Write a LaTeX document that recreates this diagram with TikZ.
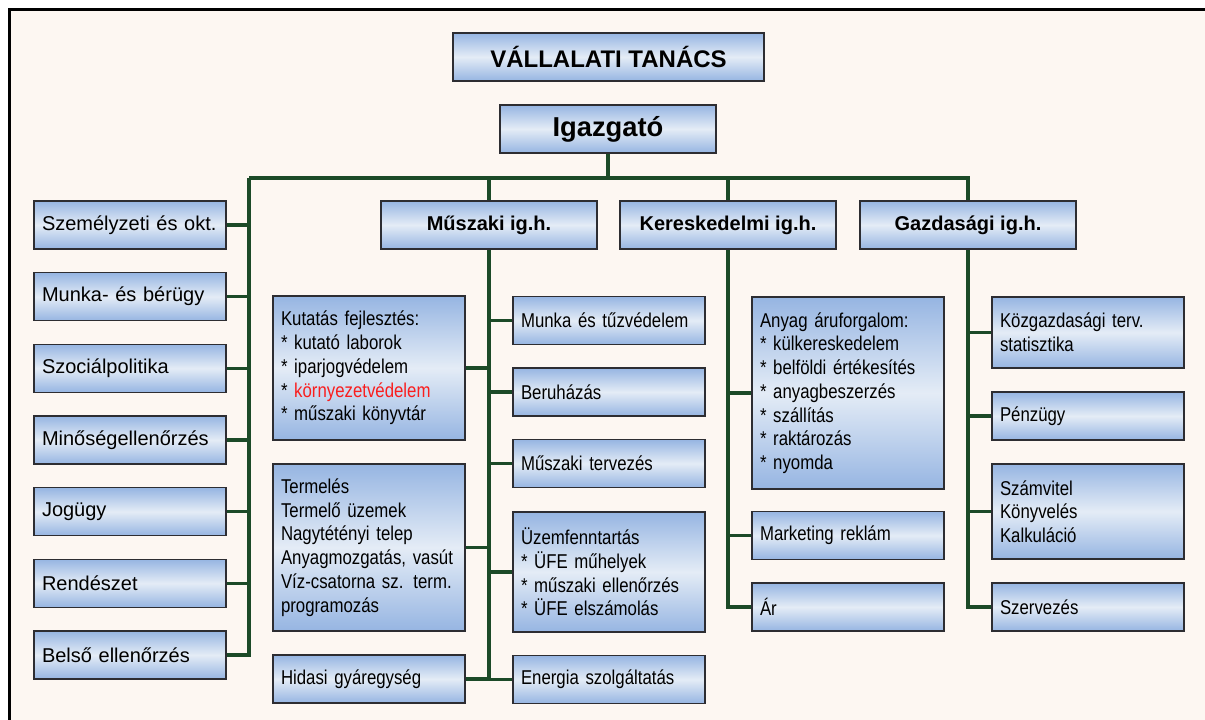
\documentclass[tikz,border=0pt]{standalone}
\usepackage{fontspec}
\setmainfont{Liberation Sans}
\newfontfamily\narrowsans[FakeStretch=0.84]{Liberation Sans}
\definecolor{boxblue}{RGB}{150,181,226}
\definecolor{boxlight}{RGB}{228,236,246}
\definecolor{boxedge}{RGB}{45,45,50}
\definecolor{linkgreen}{RGB}{28,74,40}
\definecolor{paper}{RGB}{253,247,242}
\definecolor{alertred}{RGB}{250,30,30}
% bullet item at the start of a line inside a unit box
\newcommand\bitem{{*}~}

\begin{document}
\begin{tikzpicture}[x=0.75pt,y=-0.75pt,
  box/.style={draw=boxedge, line width=0.8pt, top color=boxblue, bottom color=boxblue,
    middle color=boxlight, inner xsep=6pt, inner ysep=0pt, minimum height=36pt},
  headbox/.style={box, align=center},
  sidebox/.style={box, align=left, text width=132pt, minimum width=144pt,
    font=\fontsize{15}{18}\selectfont},
  unitbox/.style={box, align=left, text width=132pt, minimum width=144pt,
    font=\narrowsans\fontsize{15}{17.8}\selectfont},
  conn/.style={draw=linkgreen, line width=2.4pt}]

% sheet and frame
\useasboundingbox (0,0) rectangle (1205,720);
\fill[white] (0,0) rectangle (1205,720);
\fill[paper] (9,9) rectangle (1205,720);
\draw[line width=2.25pt, line join=miter] (9.5,720) -- (9.5,9.5) -- (1205,9.5);

% top level
\node[headbox, minimum width=233.25pt, font=\fontsize{18}{21}\selectfont\bfseries]
  (tanacs) at (608.5,57) {VÁLLALATI TANÁCS};
\node[headbox, minimum width=162pt, font=\fontsize{20.5}{24}\selectfont\bfseries]
  (igaz) at (608,129) {Igazgató};

% deputies
\node[headbox, minimum width=162pt, font=\fontsize{15}{18}\selectfont\bfseries]
  (musz) at (489,225) {Műszaki ig.h.};
\node[headbox, minimum width=162pt, font=\fontsize{15}{18}\selectfont\bfseries]
  (ker) at (728,225) {Kereskedelmi ig.h.};
\node[headbox, minimum width=162pt, font=\fontsize{15}{18}\selectfont\bfseries]
  (gazd) at (968,225) {Gazdasági ig.h.};

% staff units under the director
\node[sidebox] (szem) at (130,225) {Személyzeti és okt.};
\node[sidebox] (munka) at (130,296.7) {Munka- és bérügy};
\node[sidebox] (szoc) at (130,368.3) {Szociálpolitika};
\node[sidebox] (minos) at (130,440) {Minőségellenőrzés};
\node[sidebox] (jog) at (130,511.7) {Jogügy};
\node[sidebox] (rend) at (130,583.3) {Rendészet};
\node[sidebox] (belso) at (130,655) {Belső ellenőrzés};

% technical branch, left column
\node[unitbox, minimum height=108pt] (kutat) at (369,368) {Kutatás fejlesztés:\\
  \bitem kutató laborok\\ \bitem iparjogvédelem\\
  \bitem\textcolor{alertred}{környezetvédelem}\\ \bitem műszaki könyvtár};
\node[unitbox, minimum height=125.25pt] (termel) at (369,547.5) {Termelés\\
  Termelő üzemek\\ Nagytétényi telep\\ Anyagmozgatás, vasút\\
  Víz-csatorna sz. term.\\ programozás};
\node[unitbox] (hidasi) at (369,679) {Hidasi gyáregység};

% technical branch, right column
\node[unitbox] (tuzved) at (609,320.5) {Munka és tűzvédelem};
\node[unitbox] (beruh) at (609,392) {Beruházás};
\node[unitbox] (tervez) at (609,463.5) {Műszaki tervezés};
\node[unitbox, minimum height=90pt] (uzem) at (609,572) {Üzemfenntartás\\
  \bitem ÜFE műhelyek\\ \bitem műszaki ellenőrzés\\ \bitem ÜFE elszámolás};
\node[unitbox] (energia) at (609,679.5) {Energia szolgáltatás};

% commercial branch
\node[unitbox, minimum height=144pt] (anyag) at (848,393) {Anyag áruforgalom:\\
  \bitem külkereskedelem\\ \bitem belföldi értékesítés\\ \bitem anyagbeszerzés\\
  \bitem szállítás\\ \bitem raktározás\\ \bitem nyomda};
\node[unitbox] (mark) at (848,535.5) {Marketing reklám};
\node[unitbox] (ar) at (848,607) {Ár};

% economic branch
\node[unitbox, minimum height=53.25pt] (kozg) at (1088,332.5) {Közgazdasági terv.\\ statisztika};
\node[unitbox] (penz) at (1088,416) {Pénzügy};
\node[unitbox, minimum height=71.25pt] (szamv) at (1088,511.5) {Számvitel\\ Könyvelés\\ Kalkuláció};
\node[unitbox] (szerv) at (1088,607) {Szervezés};

% connectors
\coordinate (bus) at (608,178);
\coordinate (staff) at (249,178);
\draw[conn] (igaz.south) -- (bus);
\draw[conn] (staff) -- (bus) -| (gazd.north);
\draw[conn] (bus) -| (musz.north);
\draw[conn] (bus) -| (ker.north);
\foreach \n in {szem,munka,szoc,minos,jog,rend,belso}
  \draw[conn] (staff) |- (\n.east);
\foreach \n in {kutat,termel,hidasi}
  \draw[conn] (musz.south) |- (\n.east);
\foreach \n in {tuzved,beruh,tervez,uzem,energia}
  \draw[conn] (musz.south) |- (\n.west);
\foreach \n in {anyag,mark,ar}
  \draw[conn] (ker.south) |- (\n.west);
\foreach \n in {kozg,penz,szamv,szerv}
  \draw[conn] (gazd.south) |- (\n.west);
\end{tikzpicture}
\end{document}
